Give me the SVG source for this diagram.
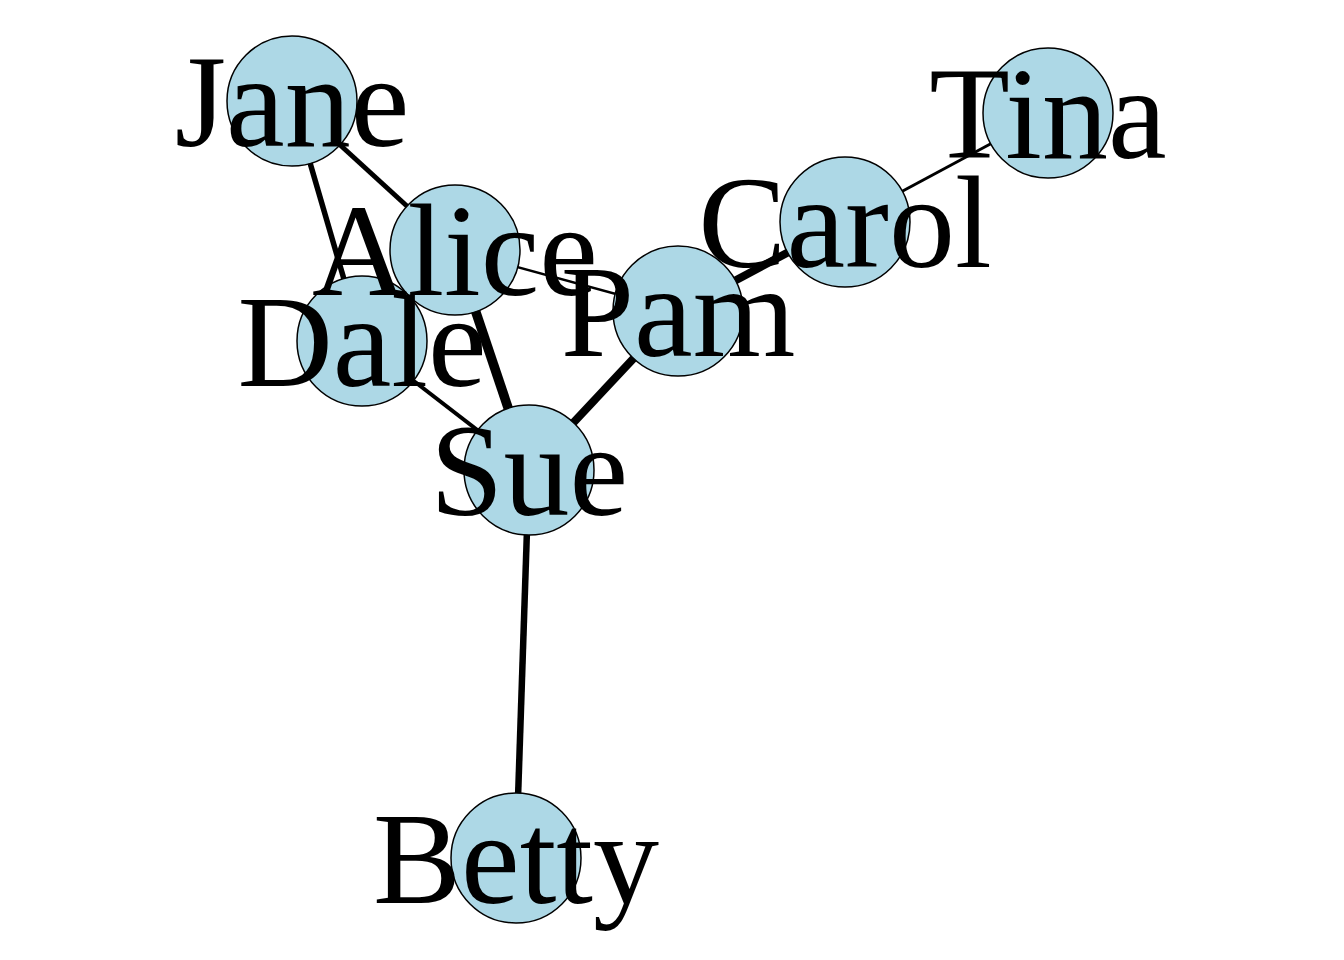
<svg xmlns="http://www.w3.org/2000/svg" width="1344" height="960" viewBox="0 0 1344 960">
<style>
.node circle{fill:#ADD8E6;stroke:#000;stroke-width:1.5}
.lbl{font-family:"Liberation Serif","Times New Roman",serif;font-size:132px;fill:#000;text-anchor:middle}
#edges line{stroke:#000;stroke-linecap:butt}
</style>
<rect width="1344" height="960" fill="#fff"/>
<g id="edges">
<line x1="292" y1="101" x2="455" y2="250" stroke-width="5"/>
<line x1="292" y1="101" x2="362" y2="341" stroke-width="5.5"/>
<line x1="455" y1="250" x2="529" y2="470" stroke-width="9.5"/>
<line x1="455" y1="250" x2="678" y2="311" stroke-width="2.5"/>
<line x1="362" y1="341" x2="529" y2="470" stroke-width="4"/>
<line x1="529" y1="470" x2="678" y2="311" stroke-width="8"/>
<line x1="678" y1="311" x2="845" y2="222" stroke-width="8"/>
<line x1="845" y1="222" x2="1048" y2="113" stroke-width="3"/>
<line x1="529" y1="470" x2="516" y2="858" stroke-width="6.5"/>
</g>
<g id="node-jane" class="node"><circle cx="292" cy="101" r="65"/></g>
<g id="node-alice" class="node"><circle cx="455" cy="250" r="65"/></g>
<g id="node-dale" class="node"><circle cx="362" cy="341" r="65"/></g>
<g id="node-sue" class="node"><circle cx="529" cy="470" r="65"/></g>
<g id="node-pam" class="node"><circle cx="678" cy="311" r="65"/></g>
<g id="node-carol" class="node"><circle cx="845" cy="222" r="65"/></g>
<g id="node-tina" class="node"><circle cx="1048" cy="113" r="65"/></g>
<g id="node-betty" class="node"><circle cx="516" cy="858" r="65"/></g>
<g id="labels">
<text class="lbl" x="292" y="146">Jane</text>
<text class="lbl" x="455" y="295">Alice</text>
<text class="lbl" x="362" y="386">Dale</text>
<text class="lbl" x="529" y="515">Sue</text>
<text class="lbl" x="678" y="356">Pam</text>
<text class="lbl" x="845" y="267">Carol</text>
<text class="lbl" x="1048" y="158">Tina</text>
<text class="lbl" x="516" y="903">Betty</text>
</g>
</svg>
